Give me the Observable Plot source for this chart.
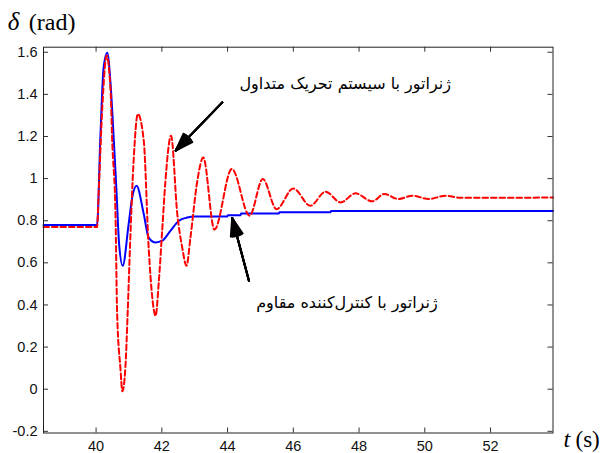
<!DOCTYPE html>
<html>
<head>
<meta charset="utf-8">
<script src="https://cdn.jsdelivr.net/npm/d3@7"></script>
<script src="https://cdn.jsdelivr.net/npm/@observablehq/plot@0.6"></script>
<style>
  html, body { margin: 0; padding: 0; background: #fff; }
</style>
</head>
<body>
<div id="chart"></div>
<script>
// ---- data ----
const xTicks = [40, 42, 44, 46, 48, 50, 52];
const yTicks = [-0.2, 0, 0.2, 0.4, 0.6, 0.8, 1, 1.2, 1.4, 1.6];

// Conventional excitation (red dashed)
const redT = [38.4, 40.03, 40.08, 40.19, 40.32, 40.44, 40.49, 40.59, 40.64, 40.74, 40.80, 40.89, 40.96, 41.03, 41.14, 41.27, 41.45, 41.60, 41.71, 41.81, 41.91, 42.01, 42.11, 42.28, 42.47, 42.62, 42.75, 42.87, 43.08, 43.26, 43.60, 44.13, 44.67, 45.07, 45.49, 46.00, 46.52, 46.98, 47.44, 47.89, 48.40, 48.77, 49.20, 49.62, 50.12, 50.63, 51.09, 53.9];
const redV = [0.77, 0.77, 0.94, 1.34, 1.584, 1.42, 1.18, 0.83, 0.36, 0.10, -0.01, 0.10, 0.36, 0.67, 1.08, 1.307, 1.18, 0.67, 0.435, 0.348, 0.515, 0.752, 0.99, 1.204, 0.832, 0.673, 0.586, 0.72, 0.99, 1.10, 0.758, 1.046, 0.824, 0.998, 0.855, 0.953, 0.871, 0.938, 0.887, 0.93, 0.892, 0.927, 0.903, 0.919, 0.903, 0.919, 0.909, 0.91];

// Robust controller (blue solid)
const blueT = [38.4, 40.03, 40.13, 40.23, 40.34, 40.44, 40.54, 40.62, 40.70, 40.81, 40.99, 41.10, 41.23, 41.45, 41.60, 41.81, 42.01, 42.26, 42.52, 42.77, 43.0, 43.99, 44.01, 44.39, 44.41, 45.56, 45.58, 47.13, 47.15, 53.9];
const blueV = [0.78, 0.78, 1.196, 1.529, 1.598, 1.45, 1.18, 0.943, 0.69, 0.586, 0.784, 0.911, 0.966, 0.832, 0.72, 0.697, 0.705, 0.752, 0.80, 0.815, 0.82, 0.82, 0.826, 0.826, 0.834, 0.834, 0.84, 0.84, 0.846, 0.846];

// Annotations
const labelTexts = ["ژنراتور با سیستم تحریک متداول", "ژنراتور با کنترل‌کننده مقاوم"];
const labelX = [47.58, 47.63];
const labelY = [1.45, 0.41];
const arrowX1 = [43.84, 44.65];
const arrowY1 = [1.362, 0.515];
const arrowX2 = [42.42, 44.14];
const arrowY2 = [1.133, 0.813];

// ---- layout ----
const W = 605, H = 453;
const mL = 43, mR = 52.5, mT = 46.7, mB = 20.5;
const frameW = W - mL - mR, frameH = H - mT - mB;
const tickLen = 5;

const red = redT.map((t, i) => ({t, v: redV[i]}));
const blue = blueT.map((t, i) => ({t, v: blueV[i]}));
const labels = labelTexts.map((s, i) => ({s, x: labelX[i], y: labelY[i]}));
const arrows = arrowX1.map((x1, i) => ({x1, y1: arrowY1[i], x2: arrowX2[i], y2: arrowY2[i]}));
const fmt = d => `${Math.round(d * 10) / 10}`;

const headAngles = [38, 30, 22, 14, 6];
const serif = "'Liberation Serif', 'Times New Roman', serif";

const chart = Plot.plot({
  width: W,
  height: H,
  marginLeft: mL,
  marginRight: mR,
  marginTop: mT,
  marginBottom: mB,
  style: {fontFamily: "'Liberation Sans', Arial, sans-serif", fontSize: "14.5px", color: "#111", background: "#fff"},
  x: {domain: [38.4, 53.9]},
  y: {domain: [-0.208, 1.624]},
  marks: [
    Plot.axisX({ticks: xTicks, tickSize: 0, tickPadding: 8, tickFormat: fmt, label: null, fontSize: 14.5}),
    Plot.axisY({ticks: yTicks, tickSize: 0, tickPadding: 6, tickFormat: fmt, label: null, fontSize: 14.5}),
    // inward ticks on all four sides
    Plot.tickX(xTicks, {x: d => d, insetTop: frameH - tickLen, stroke: "#333"}),
    Plot.tickX(xTicks, {x: d => d, insetBottom: frameH - tickLen, stroke: "#333"}),
    Plot.tickY(yTicks, {y: d => d, insetRight: frameW - tickLen, stroke: "#333"}),
    Plot.tickY(yTicks, {y: d => d, insetLeft: frameW - tickLen, stroke: "#333"}),
    Plot.line(blue, {x: "t", y: "v", stroke: "#0000ff", strokeWidth: 2, curve: "monotone-x"}),
    Plot.line(red, {x: "t", y: "v", stroke: "#ff0000", strokeWidth: 2, strokeDasharray: "5.5,3", curve: "monotone-x"}),
    Plot.frame({stroke: "#222", strokeWidth: 1}),
    ...headAngles.map(a => Plot.arrow(arrows, {x1: "x1", y1: "y1", x2: "x2", y2: "y2", stroke: "#000", strokeWidth: 2, headLength: 14, headAngle: a})),
    Plot.text(labels, {x: "x", y: "y", text: "s", fontFamily: "'DejaVu Sans', sans-serif", fontSize: 16, fill: "#000", textAnchor: "middle"}),
    Plot.text(["δ"], {frameAnchor: "top-left", dx: 7.3 - mL, dy: 29 - mT, lineAnchor: "bottom", textAnchor: "start", fontFamily: serif, fontStyle: "italic", fontSize: 25, fill: "#000"}),
    Plot.text(["(rad)"], {frameAnchor: "top-left", dx: 28.3 - mL, dy: 29 - mT, lineAnchor: "bottom", textAnchor: "start", fontFamily: serif, fontSize: 24, fill: "#000"}),
    Plot.text(["t"], {frameAnchor: "bottom-right", dx: 563 - (mL + frameW), dy: 446 - (mT + frameH), lineAnchor: "bottom", textAnchor: "start", fontFamily: serif, fontStyle: "italic", fontSize: 24, fill: "#000"}),
    Plot.text(["(s)"], {frameAnchor: "bottom-right", dx: 575 - (mL + frameW), dy: 446 - (mT + frameH), lineAnchor: "bottom", textAnchor: "start", fontFamily: serif, fontSize: 23, fill: "#000"})
  ]
});
document.getElementById("chart").appendChild(chart);
</script>
</body>
</html>
